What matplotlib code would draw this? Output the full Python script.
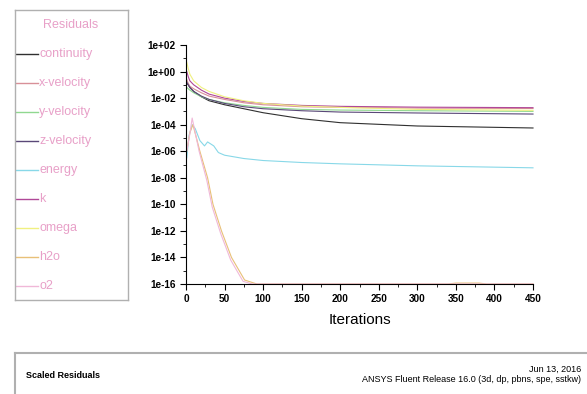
import matplotlib.pyplot as plt
import numpy as np
from matplotlib.ticker import LogLocator, NullFormatter, MultipleLocator

plt.rcParams['font.family'] = ['Liberation Sans', 'DejaVu Sans']

# residual histories, log10 values
iters = [1, 3, 5, 10, 20, 30, 50, 75, 100, 150, 200, 300, 450]
continuity = [-0.9, -1.0, -1.2, -1.5, -1.9, -2.2, -2.5, -2.8, -3.1, -3.55, -3.85, -4.1, -4.25]
x_velocity = [-0.6, -0.9, -1.1, -1.3, -1.6, -1.85, -2.1, -2.35, -2.5, -2.65, -2.7, -2.75, -2.78]
y_velocity = [-1.2, -1.3, -1.4, -1.6, -1.9, -2.1, -2.35, -2.55, -2.7, -2.85, -2.9, -2.95, -3.0]
z_velocity = [-0.8, -1.0, -1.2, -1.5, -1.85, -2.1, -2.4, -2.65, -2.8, -2.95, -3.05, -3.12, -3.2]
k_res = [0.0, -0.4, -0.7, -1.0, -1.4, -1.7, -2.0, -2.25, -2.4, -2.55, -2.62, -2.68, -2.72]
omega = [0.7, 0.2, -0.2, -0.7, -1.2, -1.5, -1.9, -2.2, -2.4, -2.6, -2.7, -2.85, -2.92]

energy_iters = [1, 4, 8, 12, 18, 24, 28, 32, 36, 42, 50, 75, 100, 150, 200, 300, 450]
energy = [-6.5, -4.8, -4.0, -4.3, -5.2, -5.6, -5.3, -5.45, -5.6, -6.1, -6.3, -6.55, -6.7, -6.85, -6.95, -7.1, -7.25]

h2o_iters = [1, 5, 9, 18, 28, 35, 46, 59, 76, 92, 340, 350, 380, 390, 450]
h2o = [-6.0, -4.6, -4.0, -6.0, -8.0, -10.0, -12.0, -14.0, -15.7, -16.0, -16.0, -15.93, -15.93, -16.0, -16.0]
o2_iters = [1, 5, 8, 17, 27, 34, 45, 58, 74, 86, 450]
o2 = [-6.0, -4.7, -3.5, -6.0, -8.2, -10.2, -12.2, -14.2, -15.8, -16.0, -16.0]

names = ['continuity', 'x-velocity', 'y-velocity', 'z-velocity', 'energy',
         'k', 'omega', 'h2o', 'o2']
colors = ['#303030', '#d89098', '#90d890', '#5a4878', '#88d8e8',
          '#b04898', '#f0f080', '#e8c078', '#f0b8d8']

series = [(iters, continuity), (iters, x_velocity), (iters, y_velocity),
          (iters, z_velocity), (energy_iters, energy), (iters, k_res),
          (iters, omega), (h2o_iters, h2o), (o2_iters, o2)]

fig = plt.figure(figsize=(5.87, 3.94), dpi=100)
W, H = 587, 394

ax = fig.add_axes([186 / W, 1 - 284 / H, (533 - 186) / W, (284 - 45) / H])
for (xs, ys), c in zip(series, colors):
    ax.plot(xs, 10.0 ** np.array(ys), color=c, lw=0.8, clip_on=False)

ax.set_yscale('log')
ax.set_ylim(1e-16, 1e2)
ax.set_xlim(0, 450)
ax.yaxis.set_major_locator(LogLocator(base=100.0, numticks=20))
ax.yaxis.set_minor_locator(LogLocator(base=10.0, subs=(1.0,), numticks=40))
ax.yaxis.set_minor_formatter(NullFormatter())
ax.yaxis.set_major_formatter(lambda v, p: '%.0e' % v)
ax.xaxis.set_major_locator(MultipleLocator(50))
ax.xaxis.set_minor_locator(MultipleLocator(25))
ax.tick_params(axis='both', which='major', labelsize=7.2, length=4, width=0.8)
ax.tick_params(axis='both', which='minor', length=2, width=0.6)
for lab in ax.get_xticklabels() + ax.get_yticklabels():
    lab.set_fontweight('bold')
ax.spines['top'].set_visible(False)
ax.spines['right'].set_visible(False)
ax.set_xlabel('Iterations', fontsize=11, labelpad=6)

# legend panel
lax = fig.add_axes([15 / W, 1 - 300 / H, (128 - 15) / W, (300 - 10) / H])
lax.set_xlim(15, 128)
lax.set_ylim(300, 10)
lax.set_xticks([])
lax.set_yticks([])
for s in lax.spines.values():
    s.set_color('#b0b0b0')
    s.set_linewidth(1.0)
lax.text(71, 25, 'Residuals', color='#e8a0c8', fontsize=9, ha='center', va='center')
for i, (name, c) in enumerate(zip(names, colors)):
    y = 54 + i * 29
    lax.plot([15, 38], [y, y], color=c, lw=1.0)
    lax.text(39, y, name, color='#e8a0c8', fontsize=9, va='center')

# footer panel
fax = fig.add_axes([15 / W, 0, 1 - 15 / W, (394 - 353) / H])
fax.set_xlim(15, 587)
fax.set_ylim(394, 353)
fax.set_xticks([])
fax.set_yticks([])
for side in ['right', 'bottom']:
    fax.spines[side].set_visible(False)
for side in ['top', 'left']:
    fax.spines[side].set_color('#b0b0b0')
    fax.spines[side].set_linewidth(1.5)
fax.text(26, 376, 'Scaled Residuals', fontsize=6.5, fontweight='bold', va='center')
fax.text(581, 369, 'Jun 13, 2016', fontsize=6.5, ha='right', va='center')
fax.text(581, 380, 'ANSYS Fluent Release 16.0 (3d, dp, pbns, spe, sstkw)',
         fontsize=6.5, ha='right', va='center')

fig.savefig('out.png', dpi=100)
